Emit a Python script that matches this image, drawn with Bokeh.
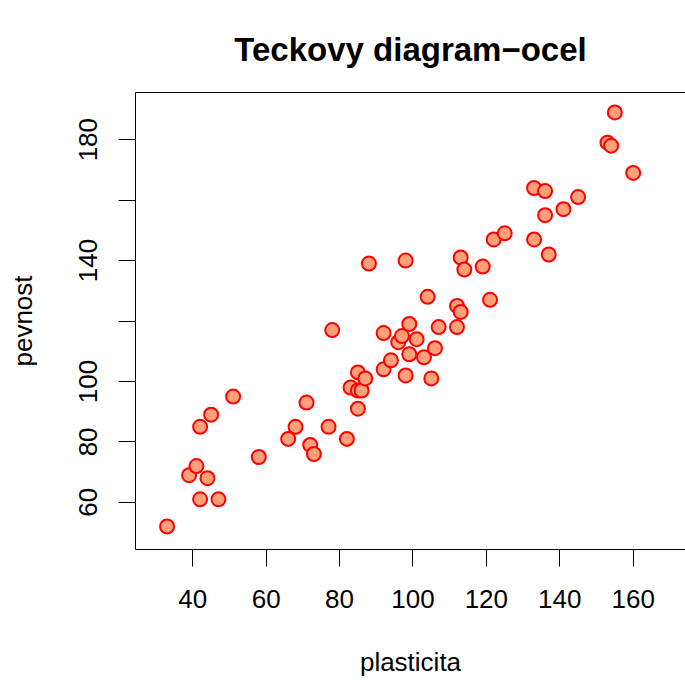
from bokeh.plotting import figure
from bokeh.models import Range1d, FixedTicker, LinearAxis
from bokeh.embed import file_html
from bokeh.resources import INLINE

plasticita = [33, 42, 47, 39, 41, 44, 42, 45, 51, 58, 66, 68, 71, 72, 73, 77, 78, 82,
              85, 83, 85, 86, 85, 87, 92, 94, 98, 92, 96, 97, 99, 99, 101, 103, 106,
              105, 107, 112, 112, 113, 121, 104, 88, 98, 113, 114, 119, 122, 125, 133,
              137, 136, 141, 145, 133, 136, 155, 153, 154, 160]
pevnost = [52, 61, 61, 69, 72, 68, 85, 89, 95, 75, 81, 85, 93, 79, 76, 85, 117, 81,
           91, 98, 97, 97, 103, 101, 104, 107, 102, 116, 113, 115, 119, 109, 114, 108,
           111, 101, 118, 118, 125, 123, 127, 128, 139, 140, 141, 137, 138, 147, 149,
           147, 142, 155, 157, 161, 164, 163, 189, 179, 178, 169]

x_ticks = [40, 60, 80, 100, 120, 140, 160]
y_ticks = [60, 80, 100, 120, 140, 160, 180]
y_hidden = [120, 160]

title_text = "Teckovy diagram\u2212ocel"
x_label = "plasticita"
y_label = "pevnost"

FONT = "Liberation Sans"

p = figure(width=685, height=681, output_backend="svg", toolbar_location=None,
           x_range=Range1d(24.4, 174.26), y_range=Range1d(44.4, 195.6),
           x_axis_location=None, y_axis_location=None,
           min_border_left=135, min_border_right=0, min_border_top=92,
           min_border_bottom=132, title=title_text)
p.outline_line_color = None
p.xgrid.grid_line_color = None
p.ygrid.grid_line_color = None
p.background_fill_color = "white"
p.border_fill_color = "white"

p.title.text_font = FONT
p.title.text_font_size = "33px"
p.title.text_font_style = "bold"
p.title.text_color = "black"
p.title.align = "center"
p.title.standoff = 50

xaxis = LinearAxis(ticker=FixedTicker(ticks=x_ticks), axis_label=x_label)
yaxis = LinearAxis(ticker=FixedTicker(ticks=y_ticks), axis_label=y_label)
yaxis.major_label_overrides = {v: "" for v in y_hidden}
yaxis.major_label_orientation = "vertical"
for ax in (xaxis, yaxis):
    ax.axis_line_color = "black"
    ax.axis_line_width = 1
    ax.major_tick_line_color = "black"
    ax.major_tick_out = 17
    ax.major_tick_in = 0
    ax.minor_tick_line_color = None
    ax.major_label_text_font = FONT
    ax.major_label_text_font_size = "26px"
    ax.major_label_text_color = "black"
    ax.axis_label_text_font = FONT
    ax.axis_label_text_font_size = "26px"
    ax.axis_label_text_font_style = "normal"
    ax.axis_label_text_color = "black"
xaxis.major_label_standoff = 23
xaxis.axis_label_standoff = 36
yaxis.major_label_standoff = 21
yaxis.axis_label_standoff = 39
p.add_layout(xaxis, "below")
p.add_layout(yaxis, "left")

top = LinearAxis(ticker=FixedTicker(ticks=[]), major_label_text_font_size="0px")
top.axis_line_color = "black"
top.major_tick_line_color = None
top.minor_tick_line_color = None
p.add_layout(top, "above")

p.scatter(plasticita, pevnost, size=14, marker="circle", fill_color="#FFA07A",
          line_color="#FF0000", line_width=2)

open("out.html", "w").write(file_html(p, INLINE))
